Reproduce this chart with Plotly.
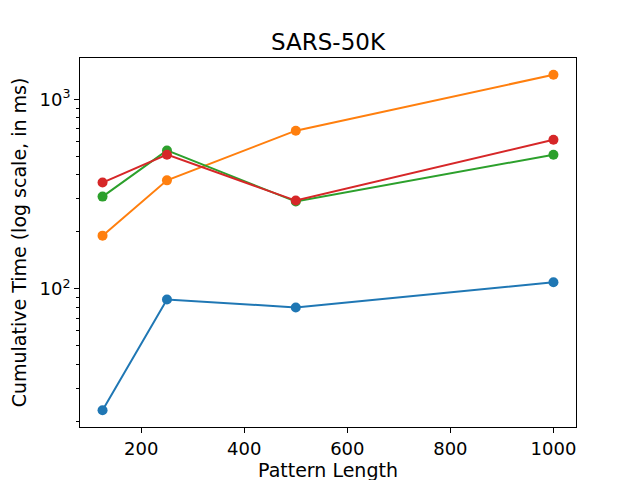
import plotly.graph_objects as go
import math

pattern_length = [125, 250, 500, 1000]
series_blue = [22.9, 88, 79.8, 108.5]
series_orange = [191, 374, 684, 1349]
series_green = [307, 538, 289, 511]
series_red = [364, 511, 292.5, 613]

colors = ["#1f77b4", "#ff7f0e", "#2ca02c", "#d62728"]
series = [series_blue, series_orange, series_green, series_red]

fig = go.Figure()
for vals, c in zip(series, colors):
    fig.add_trace(go.Scatter(
        x=pattern_length, y=vals, mode="lines+markers",
        line=dict(color=c, width=2), marker=dict(color=c, size=10),
        showlegend=False))

all_vals = [v for s in series for v in s]
lo, hi = math.log10(min(all_vals)), math.log10(max(all_vals))
pad = 0.05 * (hi - lo)
xpad = 0.05 * (max(pattern_length) - min(pattern_length))

font = "DejaVu Sans"
minor_vals = [m * 10 ** e for e in (1, 2, 3) for m in range(2, 10)]

# page body has an 8px default margin; margins below compensate for it
fig.update_layout(
    width=640, height=480,
    margin=dict(l=72, r=72, t=50, b=61),
    plot_bgcolor="white", paper_bgcolor="white",
    font=dict(family=font, color="black", size=16),
    title=dict(text="SARS-50K", x=0.5, xref="paper", y=1 - 34 / 480,
               yref="container", yanchor="middle", xanchor="center",
               font=dict(size=23, family=font, color="black")),
    xaxis=dict(
        automargin=False,
        range=[min(pattern_length) - xpad, max(pattern_length) + xpad],
        tickvals=[200, 400, 600, 800, 1000],
        ticks="outside", ticklen=5, tickwidth=1, tickcolor="black",
        showgrid=False, zeroline=False,
        showline=True, linecolor="black", linewidth=1, mirror=True,
        tickfont=dict(size=18),
        title=dict(text="Pattern Length", font=dict(size=19), standoff=3),
    ),
    yaxis=dict(
        automargin=False,
        type="log", range=[lo - pad, hi + pad],
        tickvals=[100, 1000], ticktext=["10<sup>2</sup>", "10<sup>3</sup>"],
        ticks="outside", ticklen=5, tickwidth=1, tickcolor="black",
        minor=dict(tickvals=minor_vals, ticks="outside", ticklen=3,
                   tickwidth=0.8, tickcolor="black", showgrid=False),
        showgrid=False, zeroline=False,
        showline=True, linecolor="black", linewidth=1, mirror=True,
        tickfont=dict(size=18),
        title=dict(text="Cumulative Time (log scale, in ms)",
                   font=dict(size=19), standoff=7),
    ),
)

fig.write_html("out.html")
